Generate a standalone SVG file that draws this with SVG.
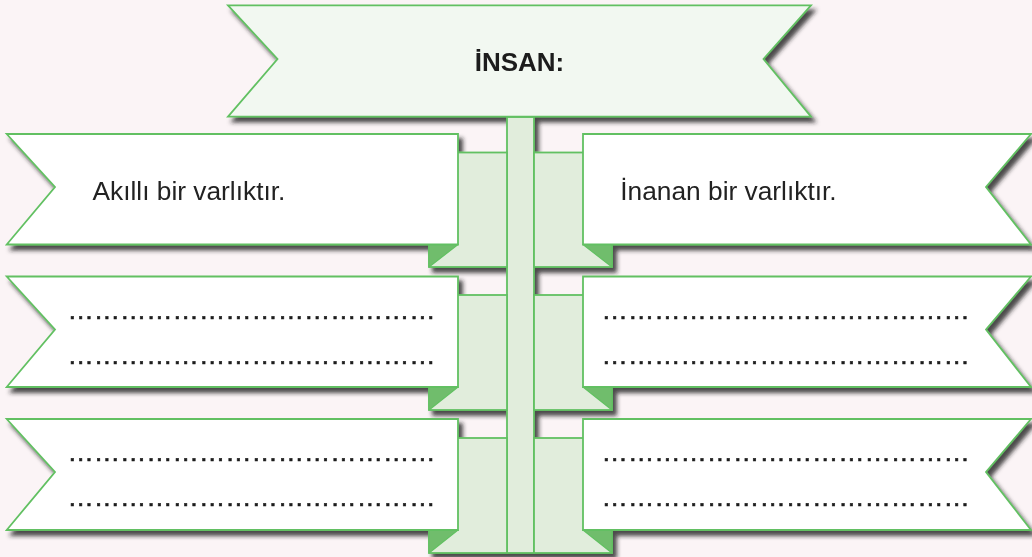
<svg xmlns="http://www.w3.org/2000/svg" width="1032" height="557" viewBox="0 0 1032 557">
<defs>
<filter id="sh" x="-5%" y="-5%" width="115%" height="115%">
<feDropShadow dx="4" dy="5" stdDeviation="2.3" flood-color="#222222" flood-opacity="0.8"/>
</filter>
<style>
.bn{fill:#ffffff;stroke:#62c062;stroke-width:1.8;stroke-linejoin:miter}
.top{fill:#f2f8f1;stroke:#62c062;stroke-width:1.8}
.pn{fill:#e1eddc;stroke:#62c062;stroke-width:1.8}
.fd{fill:#70bd6c;stroke:#62c062;stroke-width:1.2;stroke-linejoin:round}
.t{font-family:"Liberation Sans",Arial,Helvetica,sans-serif;font-size:26.3px;fill:#222222}
.d{font-family:"Liberation Sans",Arial,Helvetica,sans-serif;font-size:26.3px;fill:#1e1e1e;stroke:#1e1e1e;stroke-width:0.6;stroke-linejoin:round}
.tb{font-family:"Liberation Sans",Arial,Helvetica,sans-serif;font-size:26px;font-weight:bold;fill:#1e1e1e}
</style>
</defs>
<rect x="0" y="0" width="1032" height="557" fill="#fbf4f6"/>
<g filter="url(#sh)">
<g id="connectors">
<rect class="pn" x="507" y="117" width="27" height="436"/>
</g>
<g id="node-top">
<polygon class="top" points="228,5.3 811,5.3 763.5,59 811,116.7 228,116.7 277.5,59"/>
<text class="tb" x="519.5" y="70.7" text-anchor="middle">İNSAN:</text>
</g>
<g id="node-left-1">
<rect class="pn" x="429" y="152.5" width="78" height="114.5"/>
<polygon class="fd" points="429,244.5 458,244.5 429,267"/>
<polygon class="bn" points="6.7,134 458,134 458,244.5 6.7,244.5 55,187"/>
<text class="t" x="92.5" y="200">Akıllı bir varlıktır.</text>
</g>
<g id="node-right-1">
<rect class="pn" x="534" y="152.5" width="78" height="114.5"/>
<polygon class="fd" points="583,244.5 612,244.5 612,267"/>
<polygon class="bn" points="583,134 1031,134 986,187 1031,244.5 583,244.5"/>
<text class="t" x="620.3" y="200">İnanan bir varlıktır.</text>
</g>
<g id="node-left-2">
<rect class="pn" x="429" y="295" width="78" height="115"/>
<polygon class="fd" points="429,387 458,387 429,410"/>
<polygon class="bn" points="6.7,276.5 458,276.5 458,387 6.7,387 55,329.5"/>
<text class="d" x="67.4" y="318.6">……………………………………</text>
<text class="d" x="67.4" y="363.6">……………………………………</text>
</g>
<g id="node-right-2">
<rect class="pn" x="534" y="295" width="78" height="115"/>
<polygon class="fd" points="583,387 612,387 612,410"/>
<polygon class="bn" points="583,276.5 1031,276.5 986,329.5 1031,387 583,387"/>
<text class="d" x="601.6" y="318.6">……………………………………</text>
<text class="d" x="601.6" y="363.6">……………………………………</text>
</g>
<g id="node-left-3">
<rect class="pn" x="429" y="438" width="78" height="115"/>
<polygon class="fd" points="429,530 458,530 429,553"/>
<polygon class="bn" points="6.7,419 458,419 458,530 6.7,530 55,472"/>
<text class="d" x="67.4" y="461.3">……………………………………</text>
<text class="d" x="67.4" y="506.3">……………………………………</text>
</g>
<g id="node-right-3">
<rect class="pn" x="534" y="438" width="78" height="115"/>
<polygon class="fd" points="583,530 612,530 612,553"/>
<polygon class="bn" points="583,419 1031,419 986,472 1031,530 583,530"/>
<text class="d" x="601.6" y="461.3">……………………………………</text>
<text class="d" x="601.6" y="506.3">……………………………………</text>
</g>
</g>
</svg>
